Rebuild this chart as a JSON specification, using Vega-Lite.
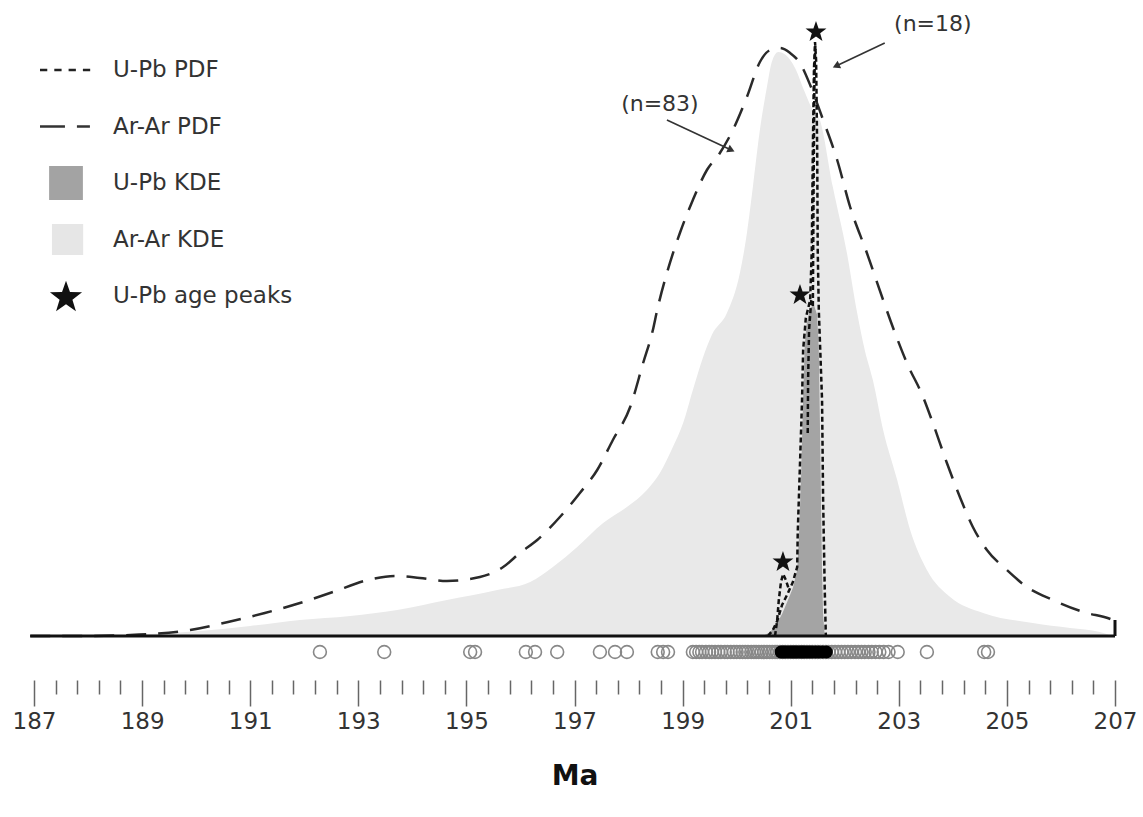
{
  "$schema": "https://vega.github.io/schema/vega-lite/v6.json",
  "width": 1081,
  "height": 680,
  "autosize": {"type": "none"},
  "padding": {"left": 34, "top": 0, "right": 28, "bottom": 137},
  "background": "white",
  "config": {"view": {"stroke": null}},
  "datasets": {
    "arKDE": [
      {"ma": 188.41, "h": 0}, {"ma": 189.15, "h": 2}, {"ma": 190.07, "h": 5}, {"ma": 191.0, "h": 10},
      {"ma": 191.92, "h": 16}, {"ma": 192.85, "h": 20}, {"ma": 193.72, "h": 26}, {"ma": 194.64, "h": 36},
      {"ma": 195.57, "h": 46}, {"ma": 196.18, "h": 54}, {"ma": 196.6, "h": 69}, {"ma": 197.05, "h": 89},
      {"ma": 197.53, "h": 113}, {"ma": 197.97, "h": 129}, {"ma": 198.34, "h": 146}, {"ma": 198.58, "h": 163},
      {"ma": 198.82, "h": 189}, {"ma": 199.01, "h": 213}, {"ma": 199.19, "h": 246}, {"ma": 199.38, "h": 279},
      {"ma": 199.54, "h": 301}, {"ma": 199.82, "h": 323}, {"ma": 200.06, "h": 363}, {"ma": 200.19, "h": 403},
      {"ma": 200.3, "h": 449}, {"ma": 200.43, "h": 506}, {"ma": 200.56, "h": 549}, {"ma": 200.65, "h": 574},
      {"ma": 200.77, "h": 584}, {"ma": 200.91, "h": 581}, {"ma": 201.08, "h": 568}, {"ma": 201.26, "h": 544},
      {"ma": 201.39, "h": 528}, {"ma": 201.54, "h": 516}, {"ma": 201.78, "h": 449}, {"ma": 202.04, "h": 383},
      {"ma": 202.23, "h": 323}, {"ma": 202.37, "h": 286}, {"ma": 202.52, "h": 256}, {"ma": 202.71, "h": 206},
      {"ma": 202.97, "h": 156}, {"ma": 203.21, "h": 106}, {"ma": 203.52, "h": 66}, {"ma": 203.95, "h": 39},
      {"ma": 204.56, "h": 23}, {"ma": 205.48, "h": 13}, {"ma": 206.17, "h": 8}, {"ma": 206.72, "h": 4},
      {"ma": 206.94, "h": 0}
    ],
    "upKDE": [
      {"ma": 200.49, "h": 0}, {"ma": 200.62, "h": 4}, {"ma": 200.73, "h": 11}, {"ma": 200.84, "h": 22},
      {"ma": 200.95, "h": 36}, {"ma": 201.04, "h": 48}, {"ma": 201.12, "h": 66}, {"ma": 201.15, "h": 96},
      {"ma": 201.19, "h": 156}, {"ma": 201.23, "h": 236}, {"ma": 201.26, "h": 291}, {"ma": 201.3, "h": 314},
      {"ma": 201.36, "h": 328}, {"ma": 201.43, "h": 331}, {"ma": 201.49, "h": 321}, {"ma": 201.52, "h": 286},
      {"ma": 201.54, "h": 216}, {"ma": 201.56, "h": 136}, {"ma": 201.58, "h": 66}, {"ma": 201.6, "h": 21},
      {"ma": 201.63, "h": 0}
    ],
    "arPDF": [
      {"ma": 186.93, "h": 0}, {"ma": 187.85, "h": 0}, {"ma": 188.78, "h": 1}, {"ma": 189.15, "h": 2},
      {"ma": 189.89, "h": 6}, {"ma": 190.59, "h": 14}, {"ma": 191.27, "h": 23}, {"ma": 191.92, "h": 33},
      {"ma": 192.53, "h": 44}, {"ma": 193.18, "h": 56}, {"ma": 193.68, "h": 60}, {"ma": 194.14, "h": 58},
      {"ma": 194.64, "h": 55}, {"ma": 195.25, "h": 59}, {"ma": 195.68, "h": 69}, {"ma": 195.99, "h": 83},
      {"ma": 196.31, "h": 96}, {"ma": 196.73, "h": 119}, {"ma": 197.1, "h": 143}, {"ma": 197.42, "h": 166},
      {"ma": 197.71, "h": 196}, {"ma": 198.03, "h": 229}, {"ma": 198.27, "h": 273}, {"ma": 198.45, "h": 306},
      {"ma": 198.53, "h": 326}, {"ma": 198.71, "h": 363}, {"ma": 198.95, "h": 403}, {"ma": 199.19, "h": 436},
      {"ma": 199.45, "h": 466}, {"ma": 199.69, "h": 483}, {"ma": 199.93, "h": 506}, {"ma": 200.19, "h": 539},
      {"ma": 200.43, "h": 574}, {"ma": 200.62, "h": 586}, {"ma": 200.8, "h": 588}, {"ma": 200.99, "h": 583},
      {"ma": 201.17, "h": 573}, {"ma": 201.36, "h": 551}, {"ma": 201.58, "h": 519}, {"ma": 201.86, "h": 476},
      {"ma": 202.1, "h": 429}, {"ma": 202.41, "h": 383}, {"ma": 202.71, "h": 336}, {"ma": 202.93, "h": 303},
      {"ma": 203.15, "h": 273}, {"ma": 203.45, "h": 239}, {"ma": 203.63, "h": 213}, {"ma": 203.89, "h": 173},
      {"ma": 204.13, "h": 139}, {"ma": 204.37, "h": 109}, {"ma": 204.63, "h": 86}, {"ma": 205.0, "h": 66},
      {"ma": 205.37, "h": 49}, {"ma": 205.85, "h": 36}, {"ma": 206.41, "h": 24}, {"ma": 206.96, "h": 16},
      {"ma": 207.0, "h": 15}
    ],
    "upPDF": [
      {"seg": "main", "ma": 200.58, "h": 0}, {"seg": "main", "ma": 200.67, "h": 6}, {"seg": "main", "ma": 200.75, "h": 15},
      {"seg": "main", "ma": 200.84, "h": 31}, {"seg": "main", "ma": 200.95, "h": 43}, {"seg": "main", "ma": 201.04, "h": 54},
      {"seg": "main", "ma": 201.12, "h": 69}, {"seg": "main", "ma": 201.13, "h": 103}, {"seg": "main", "ma": 201.17, "h": 169},
      {"seg": "main", "ma": 201.21, "h": 236}, {"seg": "main", "ma": 201.23, "h": 286}, {"seg": "main", "ma": 201.28, "h": 318},
      {"seg": "main", "ma": 201.36, "h": 336}, {"seg": "main", "ma": 201.39, "h": 386}, {"seg": "main", "ma": 201.41, "h": 486},
      {"seg": "main", "ma": 201.43, "h": 566}, {"seg": "main", "ma": 201.45, "h": 594}, {"seg": "main", "ma": 201.47, "h": 576},
      {"seg": "main", "ma": 201.49, "h": 486}, {"seg": "main", "ma": 201.5, "h": 386}, {"seg": "main", "ma": 201.52, "h": 326},
      {"seg": "main", "ma": 201.58, "h": 236}, {"seg": "main", "ma": 201.6, "h": 136}, {"seg": "main", "ma": 201.63, "h": 46},
      {"seg": "main", "ma": 201.65, "h": 0},
      {"seg": "bump", "ma": 200.71, "h": 0}, {"seg": "bump", "ma": 200.75, "h": 16}, {"seg": "bump", "ma": 200.78, "h": 36},
      {"seg": "bump", "ma": 200.82, "h": 54}, {"seg": "bump", "ma": 200.86, "h": 62}, {"seg": "bump", "ma": 200.91, "h": 56},
      {"seg": "bump", "ma": 200.97, "h": 46},
      {"seg": "inner", "ma": 201.315, "h": 203}, {"seg": "inner", "ma": 201.322, "h": 256}, {"seg": "inner", "ma": 201.34, "h": 306},
      {"seg": "inner", "ma": 201.38, "h": 336},
      {"seg": "spike", "ma": 201.41, "h": 330}, {"seg": "spike", "ma": 201.425, "h": 460}, {"seg": "spike", "ma": 201.44, "h": 560},
      {"seg": "spike", "ma": 201.455, "h": 590}
    ],
    "frame": [
      {"ma": 186.93, "ma2": 207.0, "h": 0, "h2": 0},
      {"ma": 207.0, "ma2": 207.0, "h": 0, "h2": 16}
    ],
    "arAges": [
      {"ma": 192.29}, {"ma": 193.48}, {"ma": 195.07}, {"ma": 195.16}, {"ma": 196.1}, {"ma": 196.27}, {"ma": 196.68},
      {"ma": 197.47}, {"ma": 197.75}, {"ma": 197.97}, {"ma": 198.54}, {"ma": 198.64}, {"ma": 198.73},
      {"ma": 199.19}, {"ma": 199.25}, {"ma": 199.31}, {"ma": 199.36}, {"ma": 199.43}, {"ma": 199.49}, {"ma": 199.54},
      {"ma": 199.6}, {"ma": 199.66}, {"ma": 199.71}, {"ma": 199.78}, {"ma": 199.83}, {"ma": 199.89}, {"ma": 199.95},
      {"ma": 200.0}, {"ma": 200.06}, {"ma": 200.11}, {"ma": 200.16}, {"ma": 200.21}, {"ma": 200.27}, {"ma": 200.32},
      {"ma": 200.36}, {"ma": 200.41}, {"ma": 200.46}, {"ma": 200.51}, {"ma": 200.56}, {"ma": 200.61}, {"ma": 200.66},
      {"ma": 200.71}, {"ma": 200.75}, {"ma": 200.8}, {"ma": 200.85}, {"ma": 200.9}, {"ma": 200.95},
      {"ma": 201.0}, {"ma": 201.05}, {"ma": 201.1}, {"ma": 201.15}, {"ma": 201.2}, {"ma": 201.25}, {"ma": 201.3},
      {"ma": 201.35}, {"ma": 201.4}, {"ma": 201.45}, {"ma": 201.5}, {"ma": 201.55}, {"ma": 201.6}, {"ma": 201.65},
      {"ma": 201.7}, {"ma": 201.76}, {"ma": 201.82}, {"ma": 201.88}, {"ma": 201.94},
      {"ma": 202.0}, {"ma": 202.06}, {"ma": 202.12}, {"ma": 202.19}, {"ma": 202.25}, {"ma": 202.31}, {"ma": 202.37},
      {"ma": 202.44}, {"ma": 202.5}, {"ma": 202.57}, {"ma": 202.64}, {"ma": 202.72}, {"ma": 202.81}, {"ma": 202.98},
      {"ma": 203.52}, {"ma": 204.58}, {"ma": 204.65}
    ],
    "upAges": [
      {"ma": 200.82}, {"ma": 200.86}, {"ma": 200.9}, {"ma": 200.95}, {"ma": 201.0}, {"ma": 201.04}, {"ma": 201.08},
      {"ma": 201.12}, {"ma": 201.17}, {"ma": 201.21}, {"ma": 201.25}, {"ma": 201.3}, {"ma": 201.35}, {"ma": 201.4},
      {"ma": 201.46}, {"ma": 201.52}, {"ma": 201.59}, {"ma": 201.66}
    ],
    "peaks": [
      {"ma": 201.468, "h": 604}, {"ma": 201.172, "h": 341}, {"ma": 200.857, "h": 74}
    ],
    "notes": [
      {"label": "(n=83)", "ma": 198.58, "h": 532},
      {"label": "(n=18)", "ma": 203.63, "h": 612}
    ],
    "arrows": [
      {"note": "n83", "ma": 198.71, "h": 516, "ma2": 199.9, "h2": 486},
      {"note": "n18", "ma": 202.74, "h": 593, "ma2": 201.84, "h2": 570}
    ],
    "legendItems": [
      {"series": "U-Pb PDF"}, {"series": "Ar-Ar PDF"}, {"series": "U-Pb KDE"}, {"series": "Ar-Ar KDE"}, {"series": "U-Pb age peaks"}
    ]
  },
  "encoding": {
    "x": {
      "field": "ma", "type": "quantitative",
      "scale": {"domain": [187, 207], "nice": false, "zero": false},
      "axis": {
        "orient": "bottom", "domain": false, "grid": false,
        "values": [187, 187.4, 187.8, 188.2, 188.6, 189, 189.4, 189.8, 190.2, 190.6, 191, 191.4, 191.8, 192.2, 192.6, 193, 193.4, 193.8, 194.2, 194.6, 195, 195.4, 195.8, 196.2, 196.6, 197, 197.4, 197.8, 198.2, 198.6, 199, 199.4, 199.8, 200.2, 200.6, 201, 201.4, 201.8, 202.2, 202.6, 203, 203.4, 203.8, 204.2, 204.6, 205, 205.4, 205.8, 206.2, 206.6, 207],
        "tickSize": {"condition": {"test": "abs(datum.value - round(datum.value)) < 0.01", "value": 26}, "value": 14},
        "tickColor": "#666", "tickWidth": 1.5,
        "labelExpr": "abs(datum.value - round(datum.value)) < 0.01 ? format(datum.value, 'd') : ''",
        "labelFont": "DejaVu Sans", "labelFontSize": 23, "labelColor": "#333",
        "labelPadding": 4, "labelOverlap": false, "labelBound": false, "labelFlush": false,
        "title": "Ma", "titleFont": "DejaVu Sans", "titleFontSize": 28, "titleFontWeight": "bold", "titleColor": "#111",
        "titlePadding": 29
      }
    }
  },
  "layer": [
    {
      "data": {"name": "arKDE"},
      "mark": {"type": "area", "color": "#e9e9e9", "interpolate": "monotone"},
      "encoding": {
        "y": {"field": "h", "type": "quantitative", "scale": {"domain": [-44, 636], "nice": false, "zero": false}, "axis": null},
        "y2": {"datum": 0}
      }
    },
    {
      "data": {"name": "upKDE"},
      "mark": {"type": "area", "color": "#a4a4a4"},
      "encoding": {
        "y": {"field": "h", "type": "quantitative", "scale": {"domain": [-44, 636], "nice": false, "zero": false}, "axis": null},
        "y2": {"datum": 0}
      }
    },
    {
      "data": {"name": "arPDF"},
      "mark": {"type": "line", "color": "#2a2a2a", "strokeWidth": 2.5, "strokeDash": [20, 12], "interpolate": "monotone"},
      "encoding": {
        "y": {"field": "h", "type": "quantitative", "scale": {"domain": [-44, 636], "nice": false, "zero": false}, "axis": null}
      }
    },
    {
      "data": {"name": "upPDF"},
      "mark": {"type": "line", "color": "#111", "strokeWidth": 2.5, "strokeDash": [5, 3]},
      "encoding": {
        "y": {"field": "h", "type": "quantitative", "scale": {"domain": [-44, 636], "nice": false, "zero": false}, "axis": null},
        "detail": {"field": "seg", "type": "nominal"}
      }
    },
    {
      "data": {"name": "frame"},
      "mark": {"type": "rule", "color": "#111", "strokeWidth": 3},
      "encoding": {
        "y": {"field": "h", "type": "quantitative", "scale": {"domain": [-44, 636], "nice": false, "zero": false}, "axis": null},
        "x2": {"field": "ma2"},
        "y2": {"field": "h2"}
      }
    },
    {
      "data": {"name": "arAges"},
      "mark": {"type": "point", "filled": false, "stroke": "#888888", "strokeWidth": 1.6, "size": 165, "opacity": 1},
      "encoding": {
        "y": {"datum": -16, "type": "quantitative", "scale": {"domain": [-44, 636], "nice": false, "zero": false}, "axis": null}
      }
    },
    {
      "data": {"name": "upAges"},
      "mark": {"type": "point", "filled": true, "color": "#000", "size": 165, "opacity": 1},
      "encoding": {
        "y": {"datum": -16, "type": "quantitative", "scale": {"domain": [-44, 636], "nice": false, "zero": false}, "axis": null}
      }
    },
    {
      "data": {"name": "peaks"},
      "mark": {"type": "point", "filled": true, "color": "#111", "opacity": 1, "size": 484,
        "shape": "M0,-1L0.235,-0.324L0.951,-0.309L0.38,0.124L0.588,0.809L0,0.4L-0.588,0.809L-0.38,0.124L-0.951,-0.309L-0.235,-0.324Z"},
      "encoding": {
        "y": {"field": "h", "type": "quantitative", "scale": {"domain": [-44, 636], "nice": false, "zero": false}, "axis": null}
      }
    },
    {
      "data": {"name": "arrows"},
      "mark": {"type": "rule", "color": "#333", "strokeWidth": 1.6},
      "encoding": {
        "y": {"field": "h", "type": "quantitative", "scale": {"domain": [-44, 636], "nice": false, "zero": false}, "axis": null},
        "x2": {"field": "ma2"},
        "y2": {"field": "h2"}
      }
    },
    {
      "data": {"name": "arrows"},
      "transform": [{"filter": "datum.note === 'n83'"}],
      "mark": {"type": "point", "shape": "triangle-right", "filled": true, "color": "#333", "opacity": 1, "size": 70, "angle": 25},
      "encoding": {
        "x": {"field": "ma2", "type": "quantitative"},
        "y": {"field": "h2", "type": "quantitative", "scale": {"domain": [-44, 636], "nice": false, "zero": false}, "axis": null}
      }
    },
    {
      "data": {"name": "arrows"},
      "transform": [{"filter": "datum.note === 'n18'"}],
      "mark": {"type": "point", "shape": "triangle-right", "filled": true, "color": "#333", "opacity": 1, "size": 70, "angle": 155},
      "encoding": {
        "x": {"field": "ma2", "type": "quantitative"},
        "y": {"field": "h2", "type": "quantitative", "scale": {"domain": [-44, 636], "nice": false, "zero": false}, "axis": null}
      }
    },
    {
      "data": {"name": "notes"},
      "mark": {"type": "text", "font": "DejaVu Sans", "fontSize": 22, "color": "#333", "align": "center", "baseline": "middle"},
      "encoding": {
        "y": {"field": "h", "type": "quantitative", "scale": {"domain": [-44, 636], "nice": false, "zero": false}, "axis": null},
        "text": {"field": "label", "type": "nominal"}
      }
    },
    {
      "data": {"name": "legendItems"},
      "transform": [{"filter": "false"}],
      "mark": {"type": "point", "filled": true},
      "encoding": {
        "color": {
          "field": "series", "type": "nominal",
          "scale": {"domain": ["U-Pb PDF", "Ar-Ar PDF", "U-Pb KDE", "Ar-Ar KDE", "U-Pb age peaks"],
                    "range": ["#222222", "#333333", "#a3a3a3", "#e6e6e6", "#111111"]},
          "legend": {"title": null, "orient": "none", "legendX": 6, "legendY": 44, "padding": 0,
                     "symbolSize": 2704, "symbolStrokeWidth": 0, "symbolOpacity": 1,
                     "labelFont": "DejaVu Sans", "labelFontSize": 23, "labelColor": "#333",
                     "labelOffset": 21, "rowPadding": 4.5, "labelLimit": 0}
        },
        "shape": {
          "field": "series", "type": "nominal",
          "scale": {"domain": ["U-Pb PDF", "Ar-Ar PDF", "U-Pb KDE", "Ar-Ar KDE", "U-Pb age peaks"],
                    "range": [
                      "M-1,-1M1,1M-1,-0.05H-0.72V0.05H-1Z M-0.45,-0.05H-0.17V0.05H-0.45Z M0.1,-0.05H0.38V0.05H0.1Z M0.65,-0.05H0.93V0.05H0.65Z",
                      "M-1,-1M1,1M-1,-0.05H-0.04V0.05H-1Z M0.42,-0.05H0.92V0.05H0.42Z",
                      "M-1,-1M1,1M-0.65,-0.65H0.65V0.65H-0.65Z",
                      "M-1,-1M1,1M-0.54,-0.6H0.66V0.6H-0.54Z",
                      "M-1,-1M1,1M0,-0.59L0.153,-0.151L0.618,-0.141L0.247,0.141L0.382,0.586L0,0.32L-0.382,0.586L-0.247,0.141L-0.618,-0.141L-0.153,-0.151Z"
                    ]},
          "legend": {"title": null, "orient": "none", "legendX": 6, "legendY": 44, "padding": 0,
                     "symbolSize": 2704, "symbolStrokeWidth": 0, "symbolOpacity": 1,
                     "labelFont": "DejaVu Sans", "labelFontSize": 23, "labelColor": "#333",
                     "labelOffset": 21, "rowPadding": 4.5, "labelLimit": 0}
        }
      }
    }
  ]
}
